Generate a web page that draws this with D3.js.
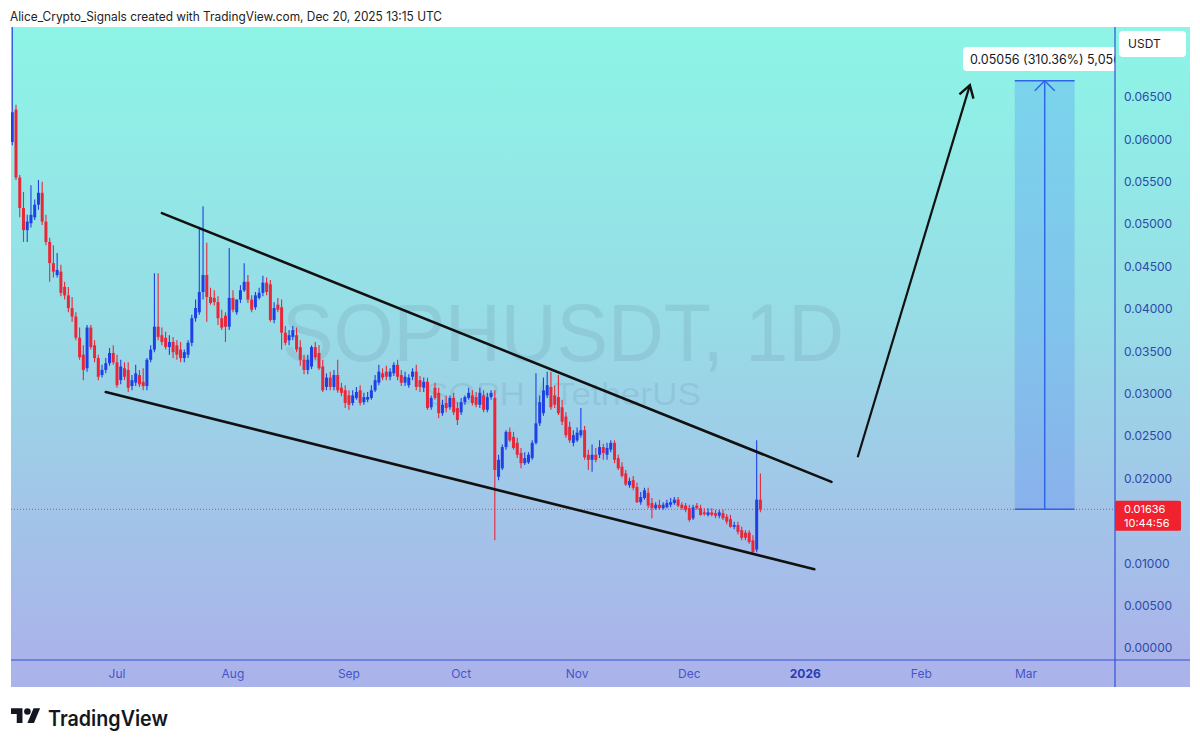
<!DOCTYPE html>
<html><head><meta charset="utf-8">
<script src="https://cdn.jsdelivr.net/npm/d3@7"></script>
<style>html,body{margin:0;padding:0;background:#fff;} svg{display:block;font-family:Inter,"Liberation Sans",sans-serif;}</style>
</head><body><svg id="c" width="1200" height="747"></svg>
<script>
// ---------- DATA ----------
const firstDay = "2025-06-03";   // first daily candle
const open = [
.0597,.0635,.0555,.0519,.0493,.0501,.0508,.0523,.0537,.0503,
.0479,.0454,.0440,.0444,.0426,.0416,.0401,.0391,.0366,.0346,
.0330,.0378,.0357,.0342,.0322,.0328,.0336,.0348,.0337,.0316,
.0330,.0328,.0309,.0313,.0322,.0314,.0309,.0340,.0352,.0379,
.0369,.0366,.0355,.0361,.0357,.0352,.0342,.0346,.0360,.0389,
.0396,.0420,.0440,.0414,.0413,.0408,.0389,.0392,.0379,.0413,
.0396,.0411,.0422,.0432,.0411,.0402,.0413,.0419,.0431,.0429,
.0387,.0405,.0402,.0372,.0363,.0367,.0369,.0355,.0340,.0328,
.0332,.0355,.0348,.0332,.0308,.0319,.0308,.0322,.0307,.0304,
.0298,.0289,.0295,.0304,.0290,.0293,.0295,.0304,.0313,.0324,
.0326,.0320,.0324,.0334,.0322,.0313,.0310,.0320,.0326,.0316,
.0307,.0314,.0284,.0307,.0301,.0277,.0289,.0284,.0295,.0283,
.0278,.0290,.0295,.0298,.0296,.0287,.0298,.0281,.0296,.0295,
.0202,.0212,.0237,.0255,.0249,.0242,.0230,.0218,.0219,.0224,
.0242,.0265,.0277,.0298,.0308,.0298,.0296,.0284,.0273,.0261,
.0242,.0245,.0251,.0257,.0228,.0222,.0228,.0228,.0237,.0228,
.0234,.0242,.0224,.0214,.0206,.0192,.0198,.0190,.0172,.0177,
.0183,.0171,.0165,.0169,.0165,.0166,.0169,.0171,.0175,.0169,
.0168,.0165,.0153,.0168,.0165,.0160,.0157,.0160,.0159,.0156,
.0159,.0155,.0152,.0143,.0145,.0139,.0136,.0136,.0127,.0116,
.0175];
const high = [
.0800,.0641,.0558,.0538,.0511,.0546,.0529,.0552,.0550,.0511,
.0484,.0475,.0466,.0452,.0432,.0426,.0414,.0396,.0378,.0357,
.0381,.0381,.0363,.0346,.0334,.0342,.0354,.0357,.0346,.0340,
.0337,.0337,.0322,.0334,.0328,.0330,.0342,.0357,.0442,.0442,
.0378,.0373,.0369,.0367,.0363,.0361,.0352,.0363,.0393,.0411,
.0497,.0521,.0478,.0425,.0422,.0415,.0399,.0396,.0472,.0422,
.0411,.0428,.0454,.0440,.0416,.0420,.0425,.0439,.0437,.0434,
.0408,.0413,.0411,.0380,.0375,.0380,.0378,.0363,.0346,.0346,
.0357,.0361,.0357,.0340,.0324,.0326,.0328,.0340,.0313,.0310,
.0304,.0304,.0308,.0310,.0301,.0302,.0310,.0322,.0334,.0330,
.0333,.0330,.0337,.0340,.0328,.0326,.0323,.0330,.0334,.0321,
.0319,.0319,.0298,.0313,.0307,.0293,.0298,.0298,.0301,.0290,
.0295,.0298,.0307,.0304,.0302,.0307,.0304,.0301,.0304,.0304,
.0228,.0240,.0257,.0260,.0255,.0248,.0236,.0231,.0231,.0245,
.0324,.0298,.0319,.0326,.0326,.0310,.0322,.0293,.0278,.0267,
.0257,.0260,.0283,.0262,.0234,.0240,.0236,.0245,.0241,.0242,
.0245,.0245,.0228,.0219,.0210,.0201,.0203,.0195,.0184,.0189,
.0189,.0177,.0172,.0175,.0172,.0175,.0177,.0178,.0178,.0172,
.0171,.0169,.0169,.0171,.0169,.0165,.0165,.0165,.0163,.0163,
.0163,.0158,.0157,.0149,.0149,.0143,.0139,.0139,.0133,.0245,
.0206];
const low = [
.0593,.0552,.0508,.0479,.0479,.0496,.0505,.0517,.0499,.0475,
.0432,.0437,.0437,.0415,.0411,.0396,.0385,.0363,.0340,.0316,
.0326,.0352,.0337,.0316,.0319,.0324,.0333,.0334,.0307,.0311,
.0316,.0302,.0304,.0309,.0308,.0304,.0304,.0337,.0349,.0363,
.0357,.0352,.0346,.0342,.0340,.0337,.0337,.0342,.0356,.0385,
.0393,.0411,.0385,.0405,.0404,.0381,.0375,.0361,.0375,.0396,
.0393,.0407,.0420,.0407,.0396,.0399,.0411,.0415,.0416,.0385,
.0383,.0396,.0352,.0357,.0357,.0363,.0349,.0333,.0323,.0323,
.0329,.0340,.0328,.0302,.0304,.0304,.0304,.0301,.0297,.0283,
.0281,.0286,.0293,.0286,.0287,.0290,.0293,.0302,.0310,.0316,
.0316,.0316,.0321,.0316,.0309,.0309,.0307,.0316,.0304,.0302,
.0302,.0281,.0281,.0293,.0271,.0274,.0278,.0281,.0275,.0263,
.0275,.0287,.0293,.0286,.0284,.0283,.0278,.0278,.0293,.0127,
.0198,.0210,.0234,.0243,.0234,.0224,.0212,.0216,.0217,.0222,
.0240,.0262,.0274,.0295,.0281,.0283,.0275,.0263,.0248,.0242,
.0238,.0243,.0248,.0222,.0210,.0208,.0219,.0224,.0222,.0222,
.0231,.0218,.0210,.0201,.0191,.0189,.0186,.0171,.0169,.0175,
.0165,.0153,.0163,.0163,.0163,.0165,.0166,.0169,.0166,.0163,
.0160,.0149,.0151,.0163,.0156,.0156,.0155,.0155,.0153,.0153,
.0151,.0146,.0142,.0140,.0134,.0127,.0127,.0123,.0112,.0113,
.0160];
const close = [
.0632,.0555,.0519,.0493,.0503,.0511,.0523,.0537,.0503,.0479,
.0454,.0444,.0446,.0419,.0416,.0401,.0391,.0366,.0343,.0328,
.0378,.0355,.0342,.0320,.0328,.0336,.0348,.0337,.0310,.0332,
.0320,.0307,.0316,.0324,.0311,.0309,.0340,.0352,.0379,.0367,
.0361,.0355,.0361,.0349,.0346,.0342,.0349,.0360,.0389,.0401,
.0420,.0440,.0414,.0407,.0408,.0389,.0378,.0379,.0413,.0399,
.0411,.0422,.0432,.0411,.0399,.0416,.0419,.0431,.0420,.0387,
.0401,.0399,.0372,.0360,.0369,.0375,.0352,.0340,.0328,.0340,
.0355,.0343,.0330,.0304,.0319,.0308,.0322,.0304,.0301,.0289,
.0287,.0298,.0302,.0289,.0296,.0296,.0304,.0316,.0326,.0319,
.0320,.0326,.0334,.0320,.0313,.0320,.0319,.0326,.0308,.0308,
.0314,.0283,.0295,.0295,.0277,.0287,.0283,.0295,.0278,.0269,
.0290,.0296,.0301,.0289,.0287,.0301,.0281,.0296,.0301,.0210,
.0222,.0237,.0255,.0245,.0236,.0228,.0218,.0224,.0228,.0242,
.0265,.0290,.0304,.0310,.0284,.0287,.0277,.0267,.0251,.0245,
.0251,.0254,.0257,.0225,.0222,.0228,.0222,.0237,.0230,.0236,
.0242,.0222,.0212,.0203,.0193,.0197,.0189,.0172,.0178,.0186,
.0168,.0165,.0169,.0165,.0169,.0171,.0172,.0175,.0168,.0165,
.0163,.0151,.0166,.0165,.0157,.0158,.0160,.0157,.0156,.0160,
.0153,.0149,.0143,.0145,.0137,.0130,.0130,.0125,.0113,.0175,
.01636];

// 0.01500 is hidden behind the last-price label in the reference
const priceTicks = [0,0.005,0.01,0.02,0.025,0.03,0.035,0.04,0.045,0.05,0.055,0.06,0.065];
const monthTicks = ["2025-07-01","2025-08-01","2025-09-01","2025-10-01","2025-11-01","2025-12-01","2026-01-01","2026-02-01","2026-03-01"];
const monthLabels = ["Jul","Aug","Sep","Oct","Nov","Dec","2026","Feb","Mar"];
const trendUpper = [["2025-07-13",0.0513],["2026-01-08",0.0196]];
const trendLower = [["2025-06-28",0.0302],["2026-01-03T10:00",0.0093]];
const arrowPts  = [["2026-01-15",0.0225],["2026-02-14",0.0664]];
const rangeBox  = {from:"2026-02-26", to:"2026-03-14", low:0.01636, high:0.06692};
const rangeLabel = "0.05056 (310.36%) 5,056";
const lastPrice = 0.01636, countdown = "10:44:56";
const headerText = "Alice_Crypto_Signals created with TradingView.com, Dec 20, 2025 13:15 UTC";

// ---------- LAYOUT ----------
const svg = d3.select("#c");
const L = 11, R = 1115, T = 27, B = 660, AX = 1190, TB = 687;
const pd = s => new Date(s.length > 10 ? s + "Z" : s + "T00:00:00Z");
const x = d3.scaleUtc().domain([pd("2025-07-01"), pd("2026-03-01")]).range([117, 1026]);
const y = d3.scaleLinear().domain([0, 0.065]).range([648, 97]);

const defs = svg.append("defs");
const g = defs.append("linearGradient").attr("id","bg").attr("x1",0).attr("y1",0).attr("x2",0).attr("y2",1);
g.append("stop").attr("offset","0%").attr("stop-color","#8df5e6");
g.append("stop").attr("offset","45%").attr("stop-color","#97dde6");
g.append("stop").attr("offset","100%").attr("stop-color","#aab3ea");
defs.append("clipPath").attr("id","plot").append("rect").attr("x",L).attr("y",T).attr("width",R-L).attr("height",B-T);

// header
svg.append("text").attr("x",10).attr("y",21).attr("font-size",12.5).attr("fill","#222")
  .attr("textLength",432).attr("lengthAdjust","spacingAndGlyphs").text(headerText);

// backgrounds
svg.append("rect").attr("x",L).attr("y",T).attr("width",AX-L).attr("height",B-T).attr("fill","url(#bg)");
svg.append("rect").attr("x",L).attr("y",B).attr("width",AX-L).attr("height",TB-B).attr("fill","#abb4ea");

const plot = svg.append("g").attr("clip-path","url(#plot)");

// watermark
plot.append("text").attr("x",(L+R)/2).attr("y",361).attr("text-anchor","middle")
  .attr("font-family","'Liberation Sans',Arial,sans-serif").attr("font-size",82)
  .attr("textLength",562).attr("lengthAdjust","spacingAndGlyphs")
  .attr("fill","rgba(80,100,120,0.13)").text("SOPHUSDT, 1D");
plot.append("text").attr("x",(L+R)/2).attr("y",405).attr("text-anchor","middle")
  .attr("font-family","'Liberation Sans',Arial,sans-serif").attr("font-size",32)
  .attr("textLength",276).attr("lengthAdjust","spacingAndGlyphs")
  .attr("fill","rgba(80,100,120,0.13)").text("SOPH / TetherUS");

// last price dotted line
plot.append("line").attr("x1",L).attr("x2",R).attr("y1",y(lastPrice)).attr("y2",y(lastPrice))
  .attr("stroke","#e8404c").attr("stroke-width",1).attr("stroke-dasharray","1,2");

// candles
const UP = "#1f40e6", DN = "#ea2738";
const d0 = pd(firstDay);
const candles = close.map((c,i)=>({d:d3.utcDay.offset(d0,i), o:open[i], h:high[i], l:low[i], c}));
const bw = (x(d3.utcDay.offset(d0,1)) - x(d0)) * 0.8;
const cg = plot.append("g");
candles.forEach(k=>{
  const cx = x(k.d), col = k.c >= k.o ? UP : DN;
  const hi = Math.max(k.h,k.o,k.c), lo = Math.min(k.l,k.o,k.c);
  cg.append("line").attr("x1",cx).attr("x2",cx).attr("y1",y(hi)).attr("y2",y(lo)).attr("stroke",col).attr("stroke-width",1.1);
  const yt = y(Math.max(k.o,k.c)), yb = y(Math.min(k.o,k.c));
  cg.append("rect").attr("x",cx-bw/2).attr("y",yt).attr("width",bw).attr("height",Math.max(1.2,yb-yt)).attr("fill",col);
});

// trend lines
[trendUpper, trendLower].forEach(t=>{
  plot.append("line").attr("x1",x(pd(t[0][0]))).attr("y1",y(t[0][1])).attr("x2",x(pd(t[1][0]))).attr("y2",y(t[1][1]))
    .attr("stroke","#111").attr("stroke-width",2.6).attr("stroke-linecap","round");
});

// arrow
{
  const x1 = x(pd(arrowPts[0][0])), y1 = y(arrowPts[0][1]), x2 = x(pd(arrowPts[1][0])), y2 = y(arrowPts[1][1]);
  plot.append("line").attr("x1",x1).attr("y1",y1).attr("x2",x2).attr("y2",y2).attr("stroke","#111").attr("stroke-width",2.2);
  const a = Math.atan2(y1-y2, x1-x2), hl = 14, sp = 0.55;
  const p = [[x2+hl*Math.cos(a+sp), y2+hl*Math.sin(a+sp)],[x2,y2],[x2+hl*Math.cos(a-sp), y2+hl*Math.sin(a-sp)]];
  plot.append("path").attr("d",d3.line()(p)).attr("fill","none").attr("stroke","#111").attr("stroke-width",2.4).attr("stroke-linejoin","miter");
}

// price range tool
{
  const bx1 = x(pd(rangeBox.from)), bx2 = x(pd(rangeBox.to)), yt = y(rangeBox.high), yb = y(rangeBox.low), mx = (bx1+bx2)/2;
  plot.append("rect").attr("x",bx1).attr("y",yt).attr("width",bx2-bx1).attr("height",yb-yt).attr("fill","rgba(41,98,255,0.2)");
  [yt,yb].forEach(v=>plot.append("line").attr("x1",bx1).attr("x2",bx2).attr("y1",v).attr("y2",v).attr("stroke","#2f63e8").attr("stroke-width",1.5));
  plot.append("line").attr("x1",mx).attr("x2",mx).attr("y1",yb).attr("y2",yt).attr("stroke","#2f63e8").attr("stroke-width",1.5);
  plot.append("path").attr("d",d3.line()([[mx-10,yt+10],[mx,yt],[mx+10,yt+10]])).attr("fill","none").attr("stroke","#2f63e8").attr("stroke-width",1.5);
  plot.append("rect").attr("x",963).attr("y",47).attr("width",170).attr("height",24).attr("rx",4).attr("fill","#fff");
  plot.append("text").attr("x",970).attr("y",63.5).attr("font-size",12.5).attr("fill","#131722").text(rangeLabel);
}

// axes lines
svg.append("line").attr("x1",R).attr("x2",R).attr("y1",T).attr("y2",TB).attr("stroke","#3550d4").attr("stroke-width",1.2);
svg.append("line").attr("x1",L).attr("x2",AX).attr("y1",B).attr("y2",B).attr("stroke","#3550d4").attr("stroke-width",1.2);

// price axis
const ya = svg.append("g");
priceTicks.forEach(v=>{
  ya.append("text").attr("x",1124).attr("y",y(v)).attr("dy","0.36em").attr("font-size",12).attr("fill","#2d4aa8").text(d3.format(".5f")(v));
});
// USDT box
svg.append("rect").attr("x",1119).attr("y",31).attr("width",67).attr("height",26).attr("rx",4).attr("fill","#fff");
svg.append("text").attr("x",1128).attr("y",48).attr("font-size",12).attr("fill","#222").text("USDT");
// last price label
{
  const yy = y(lastPrice);
  svg.append("rect").attr("x",1115).attr("y",yy-8.5).attr("width",66).attr("height",30).attr("rx",1.5).attr("fill","#f0222f");
  svg.append("text").attr("x",1124).attr("y",yy).attr("dy","0.34em").attr("font-size",11).attr("fill","#fff").text(d3.format(".5f")(lastPrice));
  svg.append("text").attr("x",1124).attr("y",yy+14).attr("dy","0.34em").attr("font-size",11).attr("fill","#fff").text(countdown);
}

// time axis
monthTicks.forEach((m,i)=>{
  const bold = monthLabels[i] === "2026";
  svg.append("text").attr("x",x(pd(m))).attr("y",674).attr("dy","0.36em").attr("text-anchor","middle")
    .attr("font-size",12).attr("font-weight",bold?700:400).attr("fill",bold?"#2a3cb4":"#4654c8").text(monthLabels[i]);
});

// footer logo
{
  const lg = svg.append("g").attr("transform","translate(11,705) scale(0.82)").attr("fill","#131722");
  lg.append("path").attr("d","M14 22H7V11H0V4h14v18z");
  lg.append("circle").attr("cx",20).attr("cy",8).attr("r",4);
  lg.append("path").attr("d","M28 22h-8l7.5-18h8L28 22z");
  svg.append("text").attr("x",48).attr("y",726).attr("font-size",21).attr("font-weight",600).attr("fill","#131722")
    .attr("textLength",120).attr("lengthAdjust","spacingAndGlyphs").text("TradingView");
}
</script></body></html>
